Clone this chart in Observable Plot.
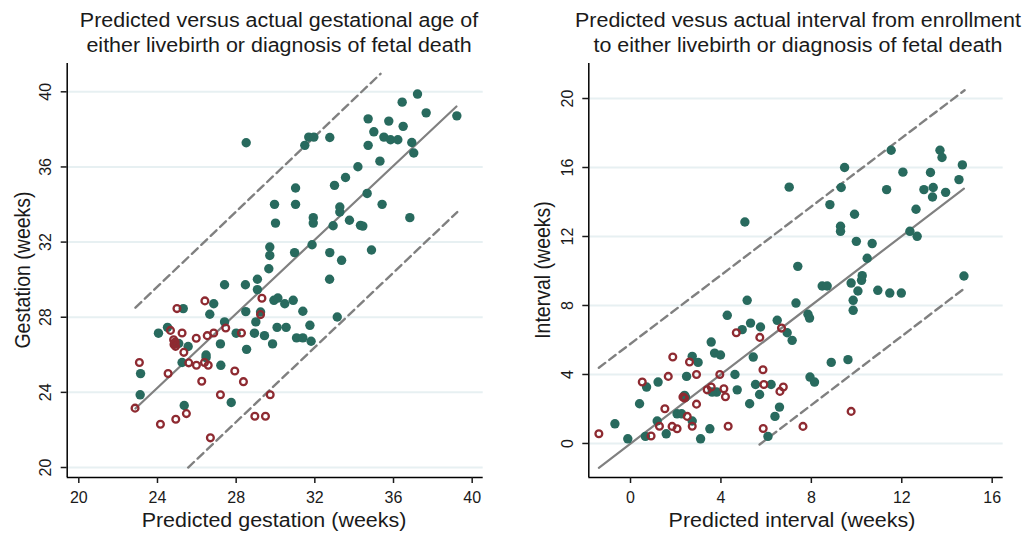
<!DOCTYPE html>
<html><head><meta charset="utf-8">
<script src="https://cdn.jsdelivr.net/npm/d3@7"></script>
<script src="https://cdn.jsdelivr.net/npm/@observablehq/plot@0.6"></script>
<style>
body{margin:0;background:#fff;font-family:"Liberation Sans",Arial,sans-serif;}
#wrap{position:relative;width:1026px;height:533px;overflow:hidden;background:#fff;}
.t{position:absolute;white-space:nowrap;color:#1a1a1a;font-size:19.5px;}
.ttl{line-height:25.3px;text-align:center;transform:translateX(-50%) scaleX(1.1);}
.xl{line-height:22px;transform:translateX(-50%) scaleX(1.1);}
.yl{line-height:22px;transform:translate(-50%,-50%) rotate(-90deg) scale(1,1.1);}
svg{position:absolute;}
</style></head><body><div id="wrap"></div>
<script>
// ---------- Left panel: gestational age ----------
const gaTitle = ["Predicted versus actual gestational age of", "either livebirth or diagnosis of fetal death"];
const gaXLabel = "Predicted gestation (weeks)";
const gaYLabel = "Gestation (weeks)";
const gaTicks = [20, 24, 28, 32, 36, 40];
// livebirth (filled): predicted, actual
const gaLiveX = [28.51,31.49,31.69,31.95,32.76,34.71,35.00,35.76,36.44,37.22,37.66,39.22,36.49,35.51,35.85,36.22,36.93,37.03,34.71,35.31,34.19,33.56,33.00,31.02,34.66,35.42,29.95,31.02,33.27,33.27,33.76,36.83,30.00,31.92,31.92,32.93,34.32,34.44,31.86,29.71,29.71,30.97,32.76,33.36,34.88,29.66,29.08,32.75,27.41,28.47,29.08,29.92,30.12,30.47,30.90,26.86,25.31,28.49,29.24,31.39,33.14,26.66,27.41,29.00,30.08,30.54,31.75,24.05,24.51,28.00,28.93,29.44,31.07,31.39,31.81,29.85,27.20,25.56,25.08,28.53,26.47,26.47,25.25,27.22,23.14,23.12,25.36,27.75];
const gaLiveY = [37.29,37.15,37.59,37.59,37.57,38.56,37.87,38.44,39.45,39.88,38.88,38.72,38.16,37.59,37.45,37.45,37.30,36.74,37.15,36.31,36.01,35.44,35.02,34.88,34.59,34.01,34.01,34.01,33.87,33.60,33.16,33.30,33.01,33.30,33.01,32.87,32.89,32.85,31.86,31.74,31.29,31.44,31.44,31.03,31.58,30.58,30.02,30.02,29.73,29.73,29.47,28.90,29.02,28.72,28.90,28.72,28.46,28.30,28.28,28.32,28.01,28.16,27.75,27.75,27.46,27.46,27.57,27.15,27.46,27.15,27.15,27.02,26.90,26.90,26.72,26.58,26.58,26.44,26.60,26.29,25.99,25.85,25.59,25.44,25.00,23.87,23.30,23.46];
// fetal death (hollow): predicted, actual
const gaDeathX = [24.99,26.41,29.31,29.24,24.66,25.25,25.97,26.53,26.86,27.47,28.27,25.34,25.59,25.98,26.39,26.58,23.08,24.54,26.25,27.93,28.37,27.20,29.73,22.86,24.15,24.93,25.47,28.95,29.49,26.69,24.82,24.90,24.84,24.92,24.88];
const gaDeathY = [28.46,28.87,29.01,28.14,27.30,27.16,26.88,27.02,27.16,27.43,27.16,26.13,25.57,25.44,25.59,25.44,25.59,25.00,24.59,25.14,24.57,23.87,23.87,23.16,22.30,22.57,22.87,22.73,22.73,21.58,26.80,26.68,26.55,26.45,26.62];
// fitted line and prediction band end points
const gaFitX = [22.88, 39.20], gaFitY = [23.14, 39.22];
const gaUpX = [22.88, 35.34], gaUpY = [28.51, 40.96];
const gaLoX = [25.56, 39.24], gaLoY = [20.00, 33.60];

// ---------- Right panel: interval ----------
const ivTitle = ["Predicted vesus actual interval from enrollment", "to either livebirth or diagnosis of fetal death"];
const ivXLabel = "Predicted interval (weeks)";
const ivYLabel = "Interval (weeks)";
const ivXTicks = [0, 4, 8, 12, 16];
const ivYTicks = [0, 4, 8, 12, 16, 20];
const ivLiveX = [-0.69,-0.12,0.40,0.71,1.22,1.18,1.58,0.66,2.06,2.26,2.43,2.48,2.73,2.99,2.73,3.10,3.51,3.57,3.72,3.98,3.81,3.61,4.28,4.62,4.72,4.94,5.06,5.16,5.31,5.43,5.27,5.53,5.71,5.75,6.08,6.22,6.39,6.59,6.49,6.93,7.15,7.02,7.32,7.40,7.85,7.92,7.94,8.14,8.48,8.70,8.88,8.82,9.32,9.29,9.29,9.47,9.62,9.76,9.85,9.85,9.91,9.99,10.06,10.22,10.25,10.47,10.69,10.94,11.33,11.47,11.53,11.98,12.05,12.36,12.68,12.63,12.98,13.27,13.39,13.36,13.69,13.78,13.94,14.53,14.68,14.75,2.39];
const ivLiveY = [1.14,0.27,2.30,3.27,3.56,1.30,0.56,0.41,1.72,1.72,2.69,3.89,5.05,4.70,1.30,0.27,0.85,5.88,5.24,5.13,2.98,2.98,7.43,4.00,3.11,6.60,12.84,8.30,6.98,5.01,2.30,3.42,2.84,6.75,0.41,3.42,1.57,2.11,7.14,6.42,5.98,14.86,8.14,10.27,7.49,7.27,3.85,3.56,9.13,9.13,4.70,13.85,14.84,12.59,12.30,16.00,4.86,9.30,8.30,7.72,13.29,11.72,8.84,9.46,9.73,10.74,11.59,8.88,14.72,8.72,17.00,8.72,15.73,12.30,12.01,13.58,14.72,15.71,14.84,14.29,17.00,16.58,14.56,15.30,16.15,9.71,2.79];
const ivDeathX = [-1.40,0.52,1.67,1.87,2.61,2.92,3.95,4.68,5.72,6.68,5.86,5.90,6.61,6.76,4.13,4.20,3.39,3.57,2.32,2.39,1.52,2.92,2.51,1.28,1.84,2.06,2.73,0.91,4.32,5.87,7.63,9.76];
const ivDeathY = [0.56,3.56,3.89,5.01,4.72,4.00,4.00,6.42,6.15,6.69,4.27,3.42,3.02,3.27,3.17,2.71,3.11,3.27,2.69,2.63,2.01,2.28,1.57,1.00,0.99,0.85,1.00,0.43,1.00,0.87,0.99,1.86];
const ivFitX = [-1.40, 14.75], ivFitY = [-1.41, 14.78];
const ivUpX = [-1.40, 14.78], ivUpY = [4.39, 20.48];
const ivLoX = [5.71, 14.75], ivLoY = [-0.06, 8.97];

// ---------- styles ----------
const GREEN = "#286a5e", RED = "#8e2a31", LINE = "#808080", GRID = "#e7f0f2";
const zip = (xs, ys) => xs.map((x, i) => ({x, y: ys[i]}));

function panel(o) {
  const chart = Plot.plot({
    width: o.width, height: 478,
    marginTop: 8, marginBottom: 56, marginLeft: o.ml, marginRight: o.mr,
    style: {fontFamily: '"Liberation Sans", Arial, sans-serif', fontSize: "16px", color: "#1a1a1a", background: "transparent", overflow: "visible"},
    x: {domain: o.xDomain},
    y: {domain: o.yDomain},
    marks: [
      Plot.gridY(o.yTicks, {stroke: GRID, strokeOpacity: 1, strokeWidth: 2}),
      Plot.ruleX([o.xDomain[0]], {stroke: "#000", strokeWidth: 1.5}),
      Plot.ruleY([o.yDomain[0]], {stroke: "#000", strokeWidth: 1.5}),
      Plot.axisX(o.xTicks, {tickSize: 6, tickPadding: 8, label: null, strokeWidth: 1.5}),
      Plot.axisY(o.yTicks, {tickSize: 6, tickPadding: 10, tickRotate: -90, label: null, strokeWidth: 1.5}),
      Plot.line(zip(o.fitX, o.fitY), {x: "x", y: "y", stroke: LINE, strokeWidth: 2.2}),
      Plot.line(zip(o.upX, o.upY), {x: "x", y: "y", stroke: LINE, strokeWidth: 2.4, strokeDasharray: "8,5"}),
      Plot.line(zip(o.loX, o.loY), {x: "x", y: "y", stroke: LINE, strokeWidth: 2.4, strokeDasharray: "8,5"}),
      Plot.dot(zip(o.liveX, o.liveY), {x: "x", y: "y", r: 4.7, fill: GREEN, stroke: null}),
      Plot.dot(zip(o.deathX, o.deathY), {x: "x", y: "y", r: 3.4, fill: "none", stroke: RED, strokeWidth: 2.3})
    ]
  });
  chart.style.left = o.left + "px";
  chart.style.top = "55px";
  return chart;
}

const wrap = document.getElementById("wrap");
wrap.appendChild(panel({
  left: 0, width: 513, ml: 66.7, mr: 30.3,
  xDomain: [19.41, 40.56], yDomain: [19.468, 41.507],
  xTicks: gaTicks, yTicks: gaTicks,
  liveX: gaLiveX, liveY: gaLiveY, deathX: gaDeathX, deathY: gaDeathY,
  fitX: gaFitX, fitY: gaFitY, upX: gaUpX, upY: gaUpY, loX: gaLoX, loY: gaLoY
}));
wrap.appendChild(panel({
  left: 513, width: 513, ml: 75.3, mr: 23.3,
  xDomain: [-1.845, 16.487], yDomain: [-1.973, 22.03],
  xTicks: ivXTicks, yTicks: ivYTicks,
  liveX: ivLiveX, liveY: ivLiveY, deathX: ivDeathX, deathY: ivDeathY,
  fitX: ivFitX, fitY: ivFitY, upX: ivUpX, upY: ivUpY, loX: ivLoX, loY: ivLoY
}));

function addText(cls, html, left, top) {
  const d = document.createElement("div");
  d.className = "t " + cls;
  d.innerHTML = html;
  d.style.left = left + "px";
  d.style.top = top + "px";
  wrap.appendChild(d);
}
addText("ttl", gaTitle.join("<br>"), 279, 8);
addText("ttl", ivTitle.join("<br>"), 798, 8);
addText("xl", gaXLabel, 274, 509);
addText("xl", ivXLabel, 792, 509);
addText("yl", gaYLabel, 22.3, 270);
addText("yl", ivYLabel, 541.7, 270);
</script>
</body></html>
